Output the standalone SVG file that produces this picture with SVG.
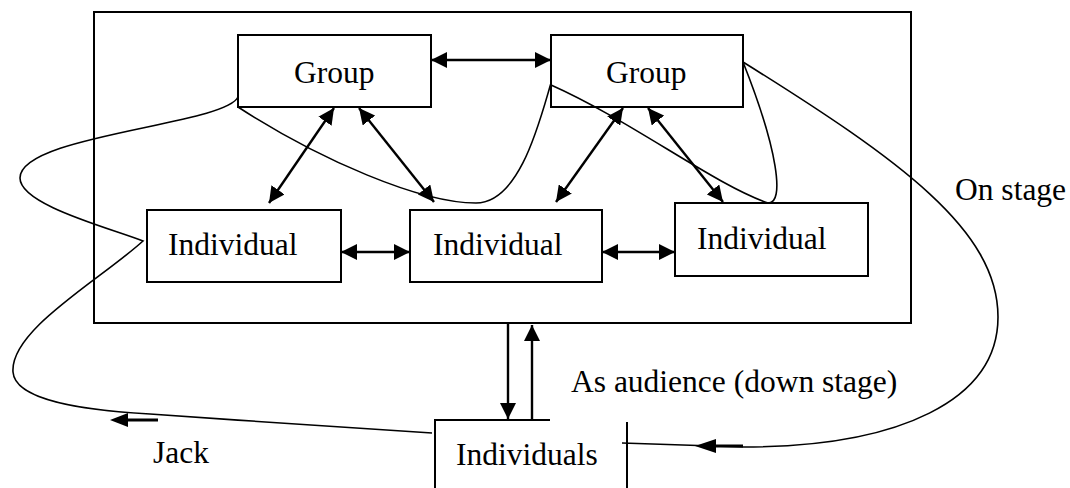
<svg xmlns="http://www.w3.org/2000/svg" width="1070" height="488" viewBox="0 0 1070 488">
<style>
.box{fill:#fff;stroke:#000;stroke-width:2}
.t{font-family:"Liberation Serif","Times New Roman",serif;font-size:31.5px;fill:#000}
.c{fill:none;stroke:#000;stroke-width:1.6}
.a{fill:none;stroke:#000;stroke-width:2.4}
</style>
<defs>
<marker id="ah" viewBox="0 0 16 16" markerWidth="16" markerHeight="16" refX="16" refY="8" orient="auto-start-reverse" markerUnits="userSpaceOnUse">
<path d="M0,0 L16,8 L0,16 z" fill="#000"/>
</marker>
</defs>
<rect id="stage" x="94" y="12" width="817" height="311" fill="none" stroke="#000" stroke-width="2"/>
<g id="group1"><rect class="box" x="238" y="35" width="193" height="72"/><text class="t" x="294" y="83">Group</text></g>
<g id="group2"><rect class="box" x="551" y="35" width="192" height="72"/><text class="t" x="606" y="83">Group</text></g>
<g id="ind1"><rect class="box" x="147" y="210" width="194" height="72"/><text class="t" x="168" y="255">Individual</text></g>
<g id="ind2"><rect class="box" x="410" y="210" width="192" height="72"/><text class="t" x="433" y="255">Individual</text></g>
<g id="ind3"><rect class="box" x="675" y="203" width="193" height="73"/><text class="t" x="697" y="249">Individual</text></g>
<g id="individuals">
<path d="M435,488 V420 H550" fill="none" stroke="#000" stroke-width="2"/>
<path d="M627,422 V488" fill="none" stroke="#000" stroke-width="2"/>
<text class="t" x="456" y="465">Individuals</text>
</g>
<g id="connectors">
<line class="a" x1="431" y1="60" x2="551" y2="60" marker-start="url(#ah)" marker-end="url(#ah)"/>
<line class="a" x1="334" y1="108" x2="269" y2="203" marker-start="url(#ah)" marker-end="url(#ah)"/>
<line class="a" x1="359" y1="108" x2="434" y2="202" marker-start="url(#ah)" marker-end="url(#ah)"/>
<line class="a" x1="623" y1="108" x2="556" y2="202" marker-start="url(#ah)" marker-end="url(#ah)"/>
<line class="a" x1="648" y1="108" x2="723" y2="202" marker-start="url(#ah)" marker-end="url(#ah)"/>
<line class="a" x1="341" y1="252" x2="410" y2="252" marker-start="url(#ah)" marker-end="url(#ah)"/>
<line class="a" x1="602" y1="252" x2="675" y2="252" marker-start="url(#ah)" marker-end="url(#ah)"/>
<line class="a" x1="508" y1="324" x2="508" y2="419" marker-end="url(#ah)"/>
<line class="a" x1="532" y1="420" x2="532" y2="325" marker-end="url(#ah)"/>
<path class="c" d="M238,97 C225,125 20,135 20,178 C20,205 110,228 143,241 C100,280 10,330 13,372 C15,400 80,410 150,414 C250,421 380,430 432,433"/>
<path class="c" d="M238,107 C320,160 420,203 476,203 C520,203 540,120 551,83"/>
<path class="c" d="M551,85 C630,120 715,185 768,203 C785,204 778,150 743,62"/>
<path class="c" d="M743,62 C900,160 998,230 998,317 C998,400 900,447 743,447 L713,446 L622,443"/>
<line x1="713" y1="446" x2="743" y2="446" stroke="#000" stroke-width="3"/>
<path d="M695,446 L716,439 L716,453 z" fill="#000"/>
<line x1="125" y1="420" x2="158" y2="420" stroke="#000" stroke-width="3"/>
<path d="M110,420 L128,413 L128,427 z" fill="#000"/>
</g>
<text class="t" x="153" y="463">Jack</text>
<text class="t" x="571" y="392">As audience (down stage)</text>
<text class="t" x="955" y="200">On stage</text>
</svg>
